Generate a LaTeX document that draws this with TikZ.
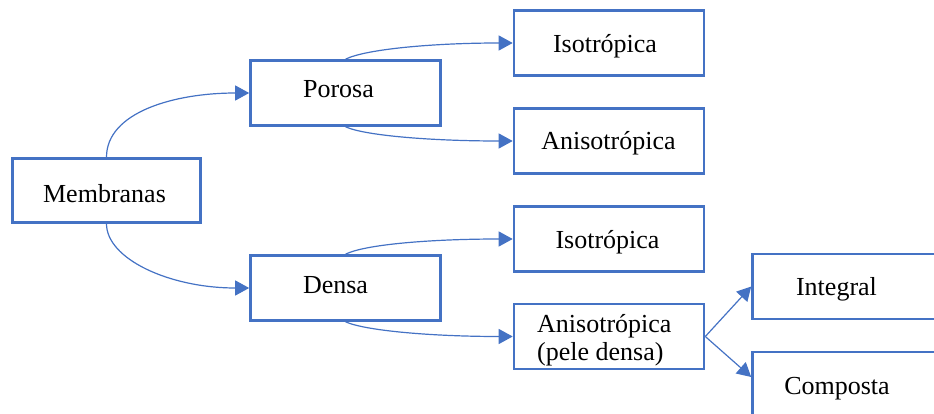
\documentclass[tikz,border=0pt]{standalone}
\usepackage{fontspec}
\setmainfont{Liberation Serif}
\usetikzlibrary{arrows.meta}
\definecolor{wblue}{HTML}{4472C4}
\begin{document}
\begin{tikzpicture}[x=1pt,y=-1pt,
  box/.style={draw=wblue,line width=2.6pt,minimum width=190pt,minimum height=65pt,inner sep=0pt},
  lbl/.style={anchor=base,font=\fontsize{26}{28}\selectfont,inner sep=0pt},
  conn/.style={draw=wblue,line width=1.2pt,-{Triangle[length=14pt,width=15pt]}}]
\useasboundingbox (0,0) rectangle (934,414);
\clip (0,0) rectangle (934,414);
% boxes
\node[box,minimum width=188pt,minimum height=64pt] (mem) at (106.5,190.5) {};
\node[box] (por) at (345.5,93) {};
\node[box] (den) at (345.5,288) {};
\node[box] (iso1) at (609,43) {};
\node[box] (ani1) at (609,141) {};
\node[box] (iso2) at (609,239) {};
\node[box] (ani2) at (609,336.5) {};
\node[box] (int) at (847.5,286.5) {};
\node[box] (comp) at (847.5,384.5) {};
% labels
\node[lbl] (memt) at (104.5,203) {Membranas};
\node[lbl] (port) at (338.5,98) {Porosa};
\node[lbl] (dent) at (335.5,293) {Densa};
\node[lbl] (iso1t) at (605,53) {Isotrópica};
\node[lbl] (ani1t) at (608.5,150) {Anisotrópica};
\node[lbl] (iso2t) at (607.5,248) {Isotrópica};
\node[lbl,anchor=base west] (ani2a) at (537,332) {Anisotrópica};
\node[lbl,anchor=base west] (ani2b) at (537,360) {(pele densa)};
\node[lbl] (intt) at (836.5,295) {Integral};
\node[lbl] (compt) at (837,394) {Composta};
% connectors
\draw[conn] (mem.north) .. controls +(0,-45) and +(-75,0) .. (por.west);
\draw[conn] (mem.south) .. controls +(0,35) and +(-80,0) .. (den.west);
\draw[conn] (por.north) .. controls +(20,-10) and +(-80,0) .. (iso1.west);
\draw[conn] (por.south) .. controls +(20,9) and +(-80,0) .. (ani1.west);
\draw[conn] (den.north) .. controls +(20,-10) and +(-80,0) .. (iso2.west);
\draw[conn] (den.south) .. controls +(20,9) and +(-80,0) .. (ani2.west);
\draw[conn] (ani2.east) -- (int.west);
\draw[conn] (ani2.east) -- ([yshift=7.5pt]comp.west);
\end{tikzpicture}
\end{document}
